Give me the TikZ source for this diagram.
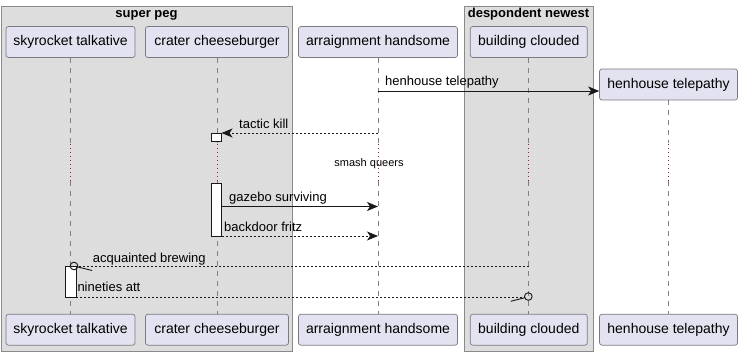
\documentclass[tikz,border=0pt]{standalone}
\usepackage{fontspec}
\setmainfont{Liberation Sans}
\usetikzlibrary{arrows.meta}
\definecolor{partfill}{HTML}{E2E2F0}
\definecolor{partline}{HTML}{7A7A85}
\definecolor{groupfill}{HTML}{DDDDDD}
\definecolor{groupline}{HTML}{8A8A8A}
\definecolor{lifeln}{HTML}{808080}
\definecolor{msgln}{HTML}{181818}
\definecolor{delayln}{HTML}{B0104A}

\begin{document}
\begin{tikzpicture}[x=1pt,y=-1pt,
  part/.style={draw=partline, fill=partfill, rounded corners=2.5pt, minimum height=31pt,
               inner sep=0pt, font=\fontsize{14}{16}\selectfont, line width=0.7pt},
  grp/.style={draw=groupline, fill=groupfill, line width=0.9pt},
  grptitle/.style={font=\fontsize{13}{15}\selectfont\bfseries, anchor=base, inner sep=0pt},
  life/.style={draw=lifeln, dash pattern=on 5pt off 5pt, line width=0.7pt},
  delay/.style={draw=delayln, dash pattern=on 1pt off 3pt, line width=0.9pt},
  msg/.style={draw=msgln, line width=0.9pt},
  reply/.style={msg, dash pattern=on 2pt off 2pt},
  tip/.style={-{Stealth[length=11pt,width=9pt,inset=3pt]}},
  lbl/.style={font=\fontsize{13}{15}\selectfont, anchor=base west, inner sep=0pt},
  actbox/.style={draw=msgln, fill=white, line width=0.8pt},
  lostmark/.style={draw=msgln, line width=0.9pt},
]
% canvas
\fill[white] (0,0) rectangle (743,355);
\useasboundingbox (0,0) rectangle (743,355);

% groups
\draw[grp] (1,6) rectangle (292,351);
\node[grptitle] (g1) at (146.5,18) {super peg};
\draw[grp] (464,6) rectangle (593,351);
\node[grptitle] (g2) at (528.5,18) {despondent newest};

% participants, top row
\node[part, minimum width=129pt] (st) at (70.5,42) {skyrocket talkative};
\node[part, minimum width=143pt] (cc) at (217,42) {crater cheeseburger};
\node[part, minimum width=159pt] (ah) at (378,42) {arraignment handsome};
\node[part, minimum width=117pt] (bc) at (528.8,42) {building clouded};
\node[part, minimum width=138pt] (ht) at (668.5,84.5) {henhouse telepathy};

% participants, bottom row
\node[part, minimum width=129pt] (st2) at (70.5,329.7) {skyrocket talkative};
\node[part, minimum width=143pt] (cc2) at (217,329.7) {crater cheeseburger};
\node[part, minimum width=159pt] (ah2) at (378,329.7) {arraignment handsome};
\node[part, minimum width=117pt] (bc2) at (528.8,329.7) {building clouded};
\node[part, minimum width=138pt] (ht2) at (668.5,329.7) {henhouse telepathy};

% lifelines, broken by the delay
\foreach \p in {st,cc,ah,bc,ht}{
  \draw[life] (\p.south) -- (\p.south |- 0,143);
  \draw[delay] (\p.south |- 0,144) -- (\p.south |- 0,181);
  \draw[life] (\p.south |- 0,181) -- (\p2.north);
}

% activations
\draw[actbox] (211.5,133) rectangle (221.5,141.5);
\draw[actbox] (211.5,183) rectangle (221.5,236);
\draw[actbox] (65.5,266.5) rectangle (76,297);

% messages
\draw[msg,tip] (ah |- 0,91) -- (ht.west |- 0,91);
\node[lbl] (l1) at (385,86) {henhouse telepathy};

\coordinate (a1) at (221.5,133);
\draw[reply,tip] (ah |- 0,133) -- (a1);
\node[lbl] (l2) at (239,129) {tactic kill};

\node[font=\fontsize{11}{13}\selectfont, anchor=base, inner sep=0pt] (dl) at (369,166.7) {smash queers};

\coordinate (a2) at (221.5,206.5);
\draw[msg,tip] (a2) -- (ah |- 0,206.5);
\node[lbl] (l3) at (229,201) {gazebo surviving};

\coordinate (a3) at (221.5,236);
\draw[reply,tip] (a3) -- (ah |- 0,236);
\node[lbl] (l4) at (224,231.5) {backdoor fritz};

% found-style message into skyrocket talkative
\coordinate (c1) at (74,266);
\draw[reply] (bc |- 0,266) -- (78,266);
\draw[lostmark] (c1) circle (3.8pt);
\draw[lostmark] (78,267) -- (92,270.5);
\node[lbl] (l5) at (92.7,262.7) {acquainted brewing};

% reply back to building clouded
\coordinate (c2) at (528.3,296.5);
\draw[reply] (76,297) -- (524.5,297);
\draw[lostmark] (c2) circle (3.8pt);
\draw[lostmark] (510.7,301.3) -- (524.5,297.8);
\node[lbl] (l6) at (77.3,291.7) {nineties att};
\end{tikzpicture}
\end{document}
